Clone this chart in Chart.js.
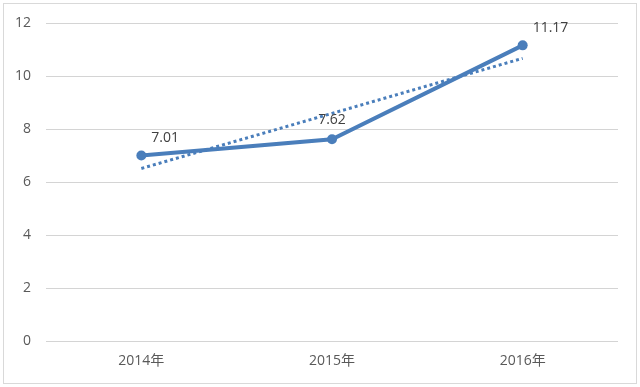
<!DOCTYPE html>
<html>
<head>
<meta charset="utf-8">
<script src="https://cdn.jsdelivr.net/npm/chart.js@4"></script>
<style>
  body { margin: 0; background: #fff; }
  #frame { position: absolute; left: 3px; top: 3px; width: 632px; height: 379px; border: 1px solid #d9d9d9; }
  #wrap { position: absolute; left: 0; top: 0; width: 640px; height: 387px; }
</style>
</head>
<body>
<div id="frame"></div>
<div id="wrap"><canvas id="myChart"></canvas></div>
<script>
const years = ["2014年", "2015年", "2016年"];
const values = [7.01, 7.62, 11.17];
const trend = [6.52, 8.6, 10.68];
const yTicks = [0, 2, 4, 6, 8, 10, 12];

const blue = "#4a7ebb";
const textColor = "#595959";
const fontFamily = "'Open Sans', 'Noto Sans CJK SC', sans-serif";

// value labels above each point
const valueLabels = {
  id: "valueLabels",
  afterDatasetsDraw(chart) {
    const ctx = chart.ctx;
    const meta = chart.getDatasetMeta(0);
    ctx.save();
    ctx.font = "14px " + fontFamily;
    ctx.fillStyle = "#404040";
    ctx.textBaseline = "middle";
    meta.data.forEach(function (pt, i) {
      const txt = values[i].toFixed(2);
      if (i === 1) {
        ctx.textAlign = "center";
        ctx.fillText(txt, pt.x, pt.y - 19);
      } else {
        ctx.textAlign = "left";
        ctx.fillText(txt, pt.x + 10, pt.y - 17);
      }
    });
    ctx.restore();
  }
};

const ctx = document.getElementById("myChart").getContext("2d");
new Chart(ctx, {
  type: "line",
  data: {
    labels: years,
    datasets: [
      {
        label: "value",
        data: values,
        borderColor: blue,
        backgroundColor: blue,
        borderWidth: 4,
        pointRadius: 5,
        pointBorderWidth: 0,
        pointBackgroundColor: blue,
        tension: 0,
        order: 1
      },
      {
        label: "trend",
        data: trend,
        borderColor: blue,
        borderWidth: 3,
        borderDash: [3, 3],
        pointRadius: 0,
        tension: 0,
        order: 2
      }
    ]
  },
  options: {
    responsive: true,
    maintainAspectRatio: false,
    animation: false,
    layout: { padding: { left: 0, top: 23, right: 22, bottom: 0 } },
    plugins: {
      legend: { display: false },
      tooltip: { enabled: false }
    },
    scales: {
      x: {
        offset: true,
        grid: { display: false, drawTicks: false },
        border: { display: false },
        ticks: {
          color: textColor,
          padding: 12,
          font: { size: 14, family: fontFamily }
        },
        afterFit: function (axis) { axis.height = 46; }
      },
      y: {
        min: 0,
        max: 12,
        afterBuildTicks: function (axis) {
          axis.ticks = yTicks.map(function (v) { return { value: v }; });
        },
        grid: { color: "#d4d4d4", lineWidth: 1, drawTicks: false },
        border: { display: false },
        ticks: {
          color: textColor,
          padding: 15,
          font: { size: 14, family: fontFamily }
        },
        afterFit: function (axis) { axis.width = 46; }
      }
    }
  },
  plugins: [valueLabels]
});
</script>
</body>
</html>
